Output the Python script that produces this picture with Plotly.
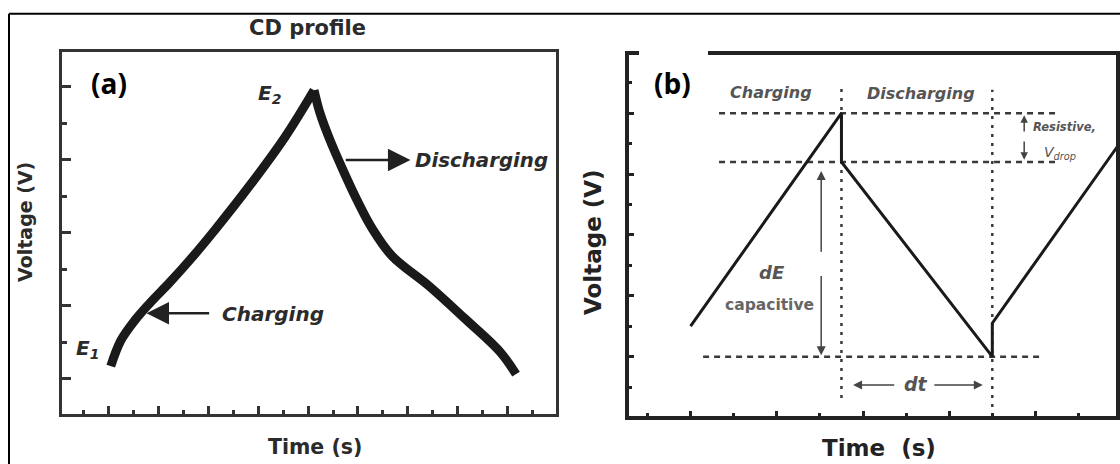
import plotly.graph_objects as go

W, H = 1120, 464

# ---- panel (a): CD profile -------------------------------------------------
charge_t = [2.10, 2.51, 3.07, 3.67, 4.47, 5.27, 6.27, 7.68, 9.08, 10.24]
charge_v = [1.34, 2.05, 2.60, 3.07, 3.64, 4.25, 5.07, 6.30, 7.62, 8.90]
discharge_t = [10.24, 10.48, 10.88, 11.40, 11.96, 12.56, 13.36, 14.85, 16.25, 17.69, 18.33]
discharge_v = [8.90, 8.27, 7.53, 6.71, 5.89, 5.12, 4.36, 3.53, 2.66, 1.73, 1.12]

# ---- panel (b): idealised triangular charge/discharge --------------------
cycle_t = [2.0, 5.5, 5.5, 9.0, 9.0, 12.2]
cycle_v = [3.0, 10.0, 8.4, 2.0, 3.1, 9.5]
level_top = 10.0      # E at end of charge
level_drop = 8.4      # after resistive drop
level_min = 2.0       # end of discharge
guide_top_x = [2.66, 10.46]
guide_min_x = [2.29, 10.11]
mark_x = [5.5, 9.0]
mark_top = [10.83, 10.77]
mark_bottom = [0.64, 0.05]

DARK = "#2b2b2b"
GREY = "#555555"
SANS = "DejaVu Sans"


def px(x, y):
    return x / W, 1 - y / H


fig = go.Figure()

fig.add_trace(go.Scatter(x=charge_t, y=charge_v, mode="lines", xaxis="x", yaxis="y",
                         line=dict(color="#1a1a1a", width=9, shape="spline", smoothing=1.0)))
fig.add_trace(go.Scatter(x=discharge_t, y=discharge_v, mode="lines", xaxis="x", yaxis="y",
                         line=dict(color="#1a1a1a", width=9, shape="spline", smoothing=1.0)))

# guide lines in (b)
for lvl, xs in [(level_top, guide_top_x), (level_drop, guide_top_x), (level_min, guide_min_x)]:
    fig.add_trace(go.Scatter(x=xs, y=[lvl, lvl], mode="lines", xaxis="x2", yaxis="y2",
                             line=dict(color="#3a3a3a", width=2.5, dash="6px,5px")))
for mx, top, bot in zip(mark_x, mark_top, mark_bottom):
    fig.add_trace(go.Scatter(x=[mx, mx], y=[bot, top], mode="lines", xaxis="x2", yaxis="y2",
                             line=dict(color="#3a3a3a", width=2.5, dash="3px,6px")))

fig.add_trace(go.Scatter(x=cycle_t, y=cycle_v, mode="lines", xaxis="x2", yaxis="y2",
                         line=dict(color="#1a1a1a", width=3)))


def axis_style(color, lw, tw, major_len, minor_len):
    return dict(showline=True, linecolor=color, linewidth=lw, mirror=True,
                ticks="inside", tickmode="linear", ticklen=major_len, tickwidth=tw,
                tickcolor=color, showticklabels=False, showgrid=False, zeroline=False,
                fixedrange=True,
                minor=dict(ticks="inside", dtick=1, ticklen=minor_len, tickwidth=tw,
                           tickcolor=color, showgrid=False))


xa = axis_style("#333333", 3, 2.5, 8, 4)
xa.update(domain=[61.5 / W, 555.5 / W], range=[0.127, 19.91], tick0=0, dtick=2, anchor="y")
ya = axis_style("#333333", 3, 2.5, 9, 5)
ya.update(domain=[1 - 413.5 / H, 1 - 51.5 / H], range=[0.041, 9.96], tick0=1, dtick=2, anchor="x")
xb = axis_style("#222222", 4, 3, 5, 3)
xb.update(domain=[628.7 / W, 1116 / W], range=[0.564, 11.87], tick0=0, dtick=2, anchor="y2")
yb = axis_style("#222222", 4, 3, 5, 3)
yb.update(domain=[1 - 415.5 / H, 1 - 54.5 / H], range=[0.066, 11.93], tick0=0, dtick=2, anchor="x2")

ann = []


def text(s, x, y, size, color=DARK, family=SANS, xanchor="center", angle=0):
    xx, yy = px(x, y)
    ann.append(dict(text=s, x=xx, y=yy, xref="paper", yref="paper", showarrow=False,
                    xanchor=xanchor, yanchor="middle", textangle=angle,
                    font=dict(family=family, size=size, color=color)))


def arrow(xref, yref, head, tail, color, width, size):
    ann.append(dict(text="", x=head[0], y=head[1], ax=tail[0], ay=tail[1],
                    xref=xref, yref=yref, axref=xref, ayref=yref, showarrow=True,
                    arrowhead=2, arrowsize=size, arrowwidth=width, arrowcolor=color,
                    standoff=0, startstandoff=0))


# panel (a) text
text("<b>CD profile</b>", 307, 28.5, 21)
text("<b>(a)</b>", 108.5, 83, 28, color="#000000", family="Open Sans")
text("<b>Voltage (V)</b>", 25, 222, 19, angle=-90)
text("<b>Time (s)</b>", 315, 446.5, 20.5)
text("<b><i>E<sub>2</sub></i></b>", 256, 94, 20, xanchor="left")
text("<b><i>E<sub>1</sub></i></b>", 74, 349, 20, xanchor="left")
text("<b><i>Charging</i></b>", 219.6, 313.5, 20, xanchor="left")
text("<b><i>Discharging</i></b>", 412.5, 160, 19.8, xanchor="left")
arrow("x", "y", (14.1, 6.99), (11.45, 6.99), "#222222", 2.5, 1.8)
arrow("x", "y", (3.53, 2.79), (6.10, 2.79), "#222222", 2.5, 1.8)

# panel (b) text
text("<b>(b)</b>", 672, 83, 28, color="#000000", family="Open Sans")
text("<b>Voltage (V)</b>", 593, 242, 23, color="#222222", angle=-90)
text("<b>Time\u00a0 (s)</b>", 879, 448, 23, color="#222222")
text("<b><i>Charging</i></b>", 771, 92, 16, color=GREY)
text("<b><i>Discharging</i></b>", 921, 93, 16, color=GREY)
text("<b><i>dE</i></b>", 771.5, 272, 18, color=GREY)
text("<b>capacitive</b>", 769, 305, 15.5, color="#666666")
text("<b><i>dt</i></b>", 915.5, 384, 19, color=GREY)
text("<b><i>Resistive,</i></b>", 1064, 126.7, 11.5, color=GREY)
text("<i>V<sub>drop</sub></i>", 1042, 153, 14, color=GREY, xanchor="left")
arrow("x2", "y2", (5.03, 8.1), (5.03, 5.4), "#444444", 1.5, 1.2)
arrow("x2", "y2", (5.03, 2.05), (5.03, 4.7), "#444444", 1.5, 1.2)
arrow("x2", "y2", (5.77, 1.07), (6.76, 1.07), "#444444", 1.5, 1.2)
arrow("x2", "y2", (8.78, 1.07), (7.62, 1.07), "#444444", 1.5, 1.2)
arrow("x2", "y2", (9.74, 9.93), (9.74, 9.35), "#444444", 1.5, 1.0)
arrow("x2", "y2", (9.74, 8.47), (9.74, 9.12), "#444444", 1.5, 1.0)

shapes = [
    # outer frame (top and left edges)
    dict(type="line", xref="paper", yref="paper", x0=9 / W, x1=1.0, y0=1 - 13.7 / H, y1=1 - 13.7 / H,
         line=dict(color="#000000", width=2)),
    dict(type="line", xref="paper", yref="paper", x0=9 / W, x1=9 / W, y0=0, y1=1 - 13.7 / H,
         line=dict(color="#000000", width=2)),
    # white label backing over the top frame of (b)
    dict(type="rect", xref="paper", yref="paper", x0=639 / W, x1=708 / W,
         y0=1 - 58 / H, y1=1 - 47 / H, fillcolor="white", line=dict(width=0), layer="above"),
]

fig.update_layout(width=W, height=H, margin=dict(l=0, r=0, t=0, b=0),
                  paper_bgcolor="white", plot_bgcolor="white", showlegend=False,
                  xaxis=xa, yaxis=ya, xaxis2=xb, yaxis2=yb,
                  annotations=ann, shapes=shapes)

fig.write_html("out.html")
